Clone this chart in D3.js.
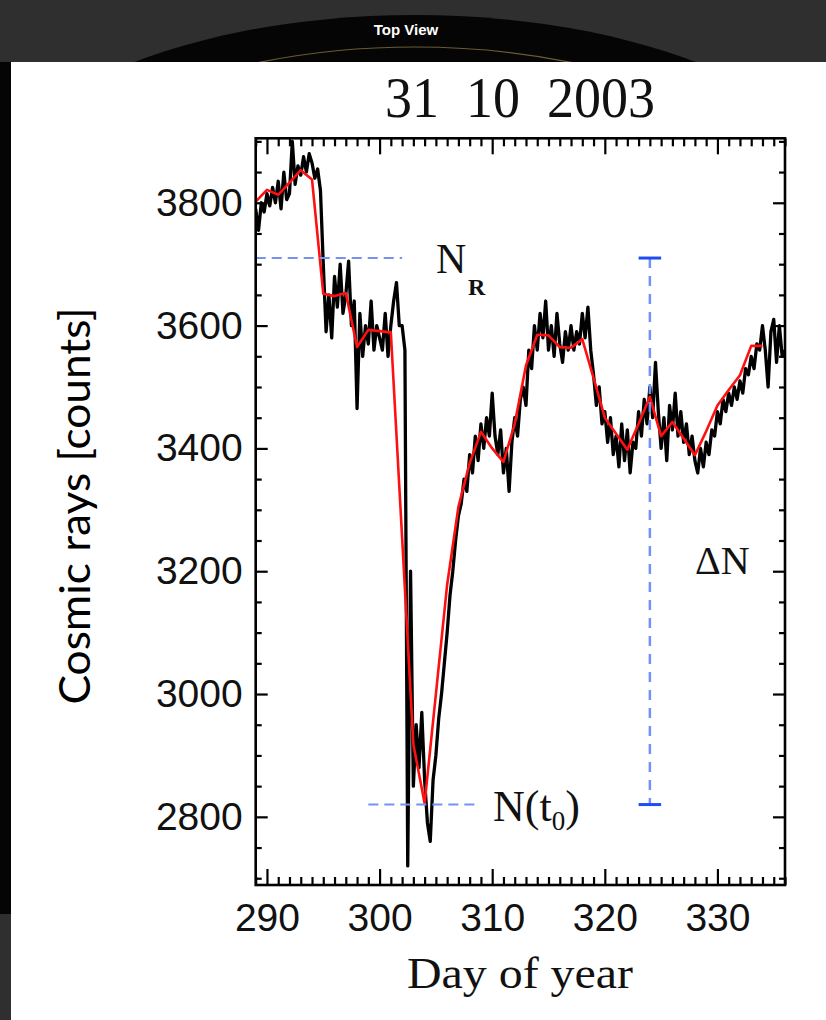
<!DOCTYPE html>
<html>
<head>
<meta charset="utf-8">
<script src="https://cdn.jsdelivr.net/npm/d3@7"></script>
<style>
  html, body { margin: 0; padding: 0; background: #2f2f2f; }
  svg { display: block; }
</style>
</head>
<body>
<svg id="chart" width="826" height="1020"></svg>
<script>
// ---- text ----
const titleText = "31  10  2003";
const yLabelText = "Cosmic rays [counts]";
const xLabelText = "Day of year";
const viewerLabel = "Top View";

// ---- ticks ----
const xMajorTicks = [290, 300, 310, 320, 330];
const yMajorTicks = [2800, 3000, 3200, 3400, 3600, 3800];

// ---- neutron monitor counts, sampled every 0.25 day from day 289 ----
const countsStart = 289;
const countsStep = 0.25;
const counts = [
  3790, 3755, 3800, 3785,   // 289
  3815, 3795, 3825, 3800,   // 290
  3835, 3790, 3850, 3805,   // 291
  3815, 3900, 3830, 3860,   // 292
  3845, 3875, 3850, 3880,   // 293
  3865, 3840, 3855, 3820,   // 294
  3700, 3590, 3650, 3580,   // 295
  3680, 3630, 3700, 3620,   // 296
  3650, 3705, 3600, 3640,   // 297
  3465, 3620, 3550, 3600,   // 298
  3570, 3640, 3560, 3600,   // 299
  3580, 3560, 3620, 3550,   // 300
  3600, 3640, 3670, 3600,   // 301
  3600, 3560, 2720, 3200,   // 302
  2850, 2950, 2880, 2970,   // 303
  2860, 2790, 2760, 2860,   // 304
  2900, 2960, 3000, 3050,   // 305
  3100, 3160, 3200, 3250,   // 306
  3290, 3310, 3350, 3330,   // 307
  3390, 3360, 3420, 3380,   // 308
  3440, 3400, 3450, 3420,   // 309
  3490, 3420, 3390, 3430,   // 310
  3360, 3400, 3330, 3410,   // 311
  3450, 3420, 3480, 3500,   // 312
  3470, 3560, 3530, 3600,   // 313
  3560, 3620, 3580, 3640,   // 314
  3560, 3600, 3550, 3620,   // 315
  3570, 3540, 3590, 3560,   // 316
  3600, 3560, 3590, 3570,   // 317
  3620, 3580, 3630, 3560,   // 318
  3520, 3470, 3500, 3440,   // 319
  3460, 3410, 3450, 3390,   // 320
  3420, 3370, 3440, 3380,   // 321
  3430, 3360, 3410, 3400,   // 322
  3460, 3420, 3480, 3440,   // 323
  3500, 3450, 3540, 3460,   // 324
  3400, 3450, 3380, 3470,   // 325
  3430, 3490, 3420, 3460,   // 326
  3410, 3440, 3390, 3420,   // 327
  3380, 3360, 3400, 3370,   // 328
  3410, 3390, 3430, 3420,   // 329
  3460, 3440, 3480, 3460,   // 330
  3490, 3470, 3500, 3480,   // 331
  3510, 3490, 3530, 3520,   // 332
  3550, 3530, 3570, 3560,   // 333
  3600, 3560, 3500, 3590,   // 334
  3610, 3540, 3600, 3550,   // 335
  3560                      // 336
];

// ---- daily means, one per day from day 289 ----
const dailyStart = 289;
const dailyMeans = [
  3802, 3821, 3813, 3833, 3853, 3838, 3652, 3648, 3653, 3565,
  3593, 3591, 3589, 3255, 2918, 2822, 3000, 3178, 3305, 3376,
  3427, 3400, 3378, 3440, 3535, 3585, 3584, 3565, 3564, 3578,
  3515, 3450, 3424, 3398, 3440, 3484, 3420, 3443, 3416, 3389,
  3428, 3470, 3495, 3519, 3567, 3567
];

// ---- decrease annotation ----
const referenceLevel = 3710;            // N_R
const minimumLevel = 2820;              // N(t0)
const referenceSpan = [289, 302];       // dashed guide for N_R
const minimumSpan = [299, 308.5];       // dashed guide for N(t0)
const deltaDay = 324;                   // vertical bar for ΔN
const capHalfWidth = 1;                 // days

// ---- layout ----
const W = 826, H = 1020;
const plot = { left: 255.7, right: 785, top: 138.3, bottom: 885 };

const svg = d3.select("#chart");

// viewer backdrop around the figure
svg.append("rect").attr("width", W).attr("height", H).attr("fill", "#2f2f2f");
svg.append("ellipse").attr("cx", 415).attr("cy", 230).attr("rx", 450).attr("ry", 215).attr("fill", "#050505");
svg.append("ellipse").attr("cx", 415).attr("cy", 262).attr("rx", 420).attr("ry", 215)
  .attr("fill", "none").attr("stroke", "#6b5a35").attr("stroke-width", 1.2);
svg.append("rect").attr("x", 0).attr("y", 62).attr("width", 12).attr("height", 852).attr("fill", "#050505");
svg.append("text").attr("x", 406).attr("y", 35).attr("text-anchor", "middle")
  .attr("font-family", "Liberation Sans, Arial, sans-serif").attr("font-weight", "bold")
  .attr("font-size", 15).attr("fill", "#ffffff").text(viewerLabel);

// white figure sheet
svg.append("rect").attr("x", 11).attr("y", 62).attr("width", W - 11).attr("height", H - 62).attr("fill", "#ffffff");

// ---- scales ----
const x = d3.scaleLinear().domain([289, 336]).range([plot.left, plot.right]);
const y = d3.scaleLinear().domain([2689, 3905]).range([plot.bottom, plot.top]);

svg.append("clipPath").attr("id", "plot-clip")
  .append("rect").attr("x", plot.left).attr("y", plot.top)
  .attr("width", plot.right - plot.left).attr("height", plot.bottom - plot.top);

// ---- data lines ----
const rawLine = d3.line()
  .x((d, i) => x(countsStart + i * countsStep))
  .y(d => y(d));
const meanLine = d3.line()
  .x((d, i) => x(dailyStart + i))
  .y(d => y(d));

const data = svg.append("g").attr("clip-path", "url(#plot-clip)");
data.append("path").datum(counts).attr("d", rawLine)
  .attr("fill", "none").attr("stroke", "#000").attr("stroke-width", 3.3)
  .attr("stroke-linejoin", "round");
data.append("path").datum(dailyMeans).attr("d", meanLine)
  .attr("fill", "none").attr("stroke", "#ff1010").attr("stroke-width", 2.6)
  .attr("stroke-linejoin", "round");

// ---- annotation guides ----
const guide = svg.append("g");
const dashColor = "#7393f4";
guide.append("line")
  .attr("x1", x(referenceSpan[0])).attr("x2", x(referenceSpan[1]))
  .attr("y1", y(referenceLevel)).attr("y2", y(referenceLevel))
  .attr("stroke", dashColor).attr("stroke-width", 2).attr("stroke-dasharray", "10 6");
guide.append("line")
  .attr("x1", x(minimumSpan[0])).attr("x2", x(minimumSpan[1]))
  .attr("y1", y(minimumLevel)).attr("y2", y(minimumLevel))
  .attr("stroke", dashColor).attr("stroke-width", 2).attr("stroke-dasharray", "10 6");
guide.append("line")
  .attr("x1", x(deltaDay)).attr("x2", x(deltaDay))
  .attr("y1", y(referenceLevel)).attr("y2", y(minimumLevel))
  .attr("stroke", dashColor).attr("stroke-width", 2.5).attr("stroke-dasharray", "10 8");
[referenceLevel, minimumLevel].forEach(v => {
  guide.append("line")
    .attr("x1", x(deltaDay - capHalfWidth)).attr("x2", x(deltaDay + capHalfWidth))
    .attr("y1", y(v)).attr("y2", y(v))
    .attr("stroke", "#1f4cf5").attr("stroke-width", 3);
});

// ---- annotation labels ----
const serif = "Liberation Serif, Times New Roman, serif";
svg.append("text").attr("font-family", serif).attr("fill", "#111")
  .attr("x", 436).attr("y", y(referenceLevel) + 15).attr("font-size", 42).text("N");
svg.append("text").attr("font-family", serif).attr("fill", "#111")
  .attr("x", 468).attr("y", y(referenceLevel) + 37).attr("font-size", 24)
  .attr("font-weight", "bold").text("R");

const nt = svg.append("text").attr("font-family", serif).attr("fill", "#111")
  .attr("x", 493).attr("y", y(minimumLevel) + 16);
nt.append("tspan").attr("font-size", 44).text("N(t");
nt.append("tspan").attr("font-size", 27).attr("dy", 9).text("0");
nt.append("tspan").attr("font-size", 44).attr("dy", -9).text(")");

svg.append("text").attr("font-family", serif).attr("fill", "#111")
  .attr("x", 695).attr("y", 574).attr("font-size", 40).text("ΔN");

// ---- axes (ticks point inward on all four sides) ----
const fmt = d3.format("d");
const yMinor = d3.range(2700, 3901, 50).filter(v => !yMajorTicks.includes(v));
const xMinor = d3.range(289, 337, 1).filter(v => !xMajorTicks.includes(v));

function styleAxis(g) {
  g.select(".domain").remove();
  g.selectAll(".tick line").attr("stroke", "#000").attr("stroke-width", 2.2);
  g.selectAll("text").attr("fill", "#111")
    .attr("font-family", "Liberation Sans, Arial, sans-serif").attr("font-size", 39);
}

svg.append("g").attr("transform", `translate(${plot.left},0)`)
  .call(d3.axisLeft(y).tickValues(yMajorTicks).tickSize(-12).tickPadding(13).tickFormat(fmt))
  .call(styleAxis);
svg.append("g").attr("transform", `translate(${plot.left},0)`)
  .call(d3.axisLeft(y).tickValues(yMinor).tickSize(-6).tickFormat(""))
  .call(styleAxis);
svg.append("g").attr("transform", `translate(${plot.right},0)`)
  .call(d3.axisRight(y).tickValues(yMajorTicks).tickSize(-12).tickFormat(""))
  .call(styleAxis);
svg.append("g").attr("transform", `translate(${plot.right},0)`)
  .call(d3.axisRight(y).tickValues(yMinor).tickSize(-6).tickFormat(""))
  .call(styleAxis);

svg.append("g").attr("transform", `translate(0,${plot.bottom})`)
  .call(d3.axisBottom(x).tickValues(xMajorTicks).tickSize(-16).tickPadding(18).tickFormat(fmt))
  .call(styleAxis);
svg.append("g").attr("transform", `translate(0,${plot.bottom})`)
  .call(d3.axisBottom(x).tickValues(xMinor).tickSize(-8).tickFormat(""))
  .call(styleAxis);
svg.append("g").attr("transform", `translate(0,${plot.top})`)
  .call(d3.axisTop(x).tickValues(xMajorTicks).tickSize(-16).tickFormat(""))
  .call(styleAxis);
svg.append("g").attr("transform", `translate(0,${plot.top})`)
  .call(d3.axisTop(x).tickValues(xMinor).tickSize(-8).tickFormat(""))
  .call(styleAxis);

// frame
svg.append("rect").attr("x", plot.left).attr("y", plot.top)
  .attr("width", plot.right - plot.left).attr("height", plot.bottom - plot.top)
  .attr("fill", "none").attr("stroke", "#000").attr("stroke-width", 2.6);

// ---- titles ----
svg.append("text").attr("x", 520).attr("y", 117).attr("text-anchor", "middle")
  .attr("font-family", serif).attr("font-size", 57).attr("fill", "#111")
  .attr("textLength", 270).attr("lengthAdjust", "spacingAndGlyphs")
  .style("white-space", "pre").text(titleText);

svg.append("text").attr("x", 520).attr("y", 988).attr("text-anchor", "middle")
  .attr("font-family", serif).attr("font-size", 45).attr("fill", "#111")
  .attr("textLength", 226).attr("lengthAdjust", "spacingAndGlyphs")
  .text(xLabelText);

svg.append("text").attr("transform", "translate(90,506) rotate(-90)")
  .attr("text-anchor", "middle")
  .attr("font-family", "Lato, Open Sans, sans-serif").attr("font-size", 42).attr("fill", "#000")
  .attr("textLength", 397).attr("lengthAdjust", "spacingAndGlyphs")
  .text(yLabelText);
</script>
</body>
</html>
